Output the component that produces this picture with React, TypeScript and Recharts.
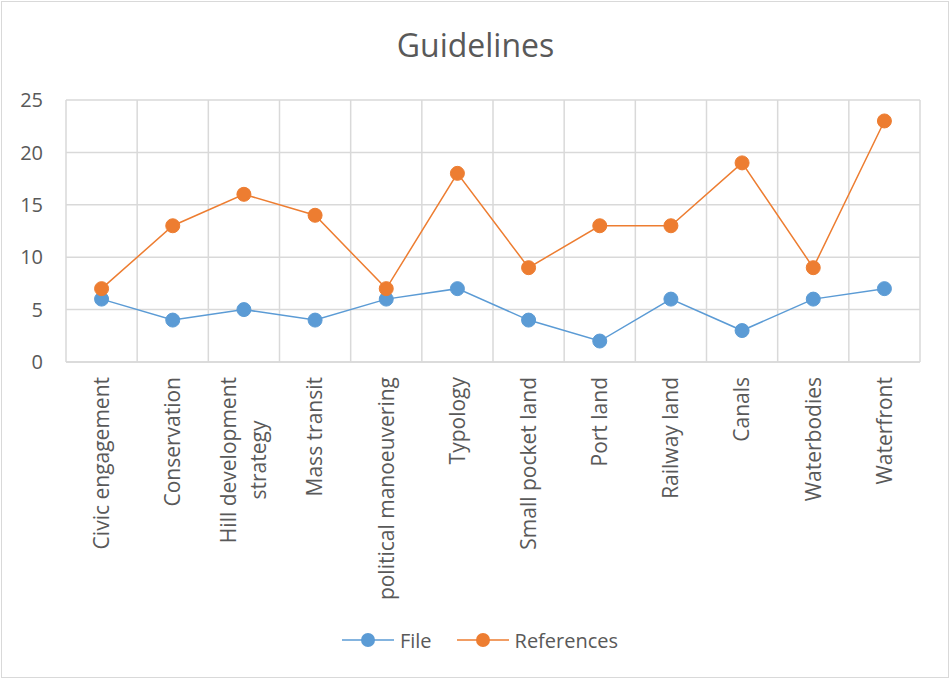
import React from 'react';
import { LineChart, Line, XAxis, YAxis, CartesianGrid, Legend } from 'recharts';

const categories = [
  'Civic engagement',
  'Conservation',
  'Hill development strategy',
  'Mass transit',
  'political manoeuvering',
  'Typology',
  'Small pocket land',
  'Port land',
  'Railway land',
  'Canals',
  'Waterbodies',
  'Waterfront',
];
const fileValues = [6, 4, 5, 4, 6, 7, 4, 2, 6, 3, 6, 7];
const referenceValues = [7, 13, 16, 14, 7, 18, 9, 13, 13, 19, 9, 23];
const yTicks = [0, 5, 10, 15, 20, 25];
// Excel wraps this one label onto two lines
const wrappedLabels: Record<string, string[]> = {
  'Hill development strategy': ['Hill development', 'strategy'],
};

const BLUE = '#5B9BD5';
const ORANGE = '#ED7D31';
const GRID = '#D9D9D9';
const TEXT = '#595959';
const FONT = '"Open Sans", sans-serif';
const FONT_SIZE = 20;
const CAT_FONT_SIZE = 21;

const data = categories.map((name, idx) => ({
  idx,
  name,
  File: fileValues[idx],
  References: referenceValues[idx],
}));

const xTicks = categories.map((_, i) => i);
// category boundaries, for the vertical gridlines
const xBounds = [-0.5, ...categories.map((_, i) => i + 0.5)];

let measureCtx: CanvasRenderingContext2D | null = null;
const measure = (text: string) => {
  if (!measureCtx) measureCtx = document.createElement('canvas').getContext('2d');
  if (!measureCtx) return text.length * CAT_FONT_SIZE * 0.52;
  measureCtx.font = `${CAT_FONT_SIZE}px "Open Sans"`;
  return measureCtx.measureText(text).width;
};

const CategoryTick = ({ x, y, payload }: any) => {
  const label = categories[payload.value] ?? '';
  const lines = wrappedLabels[label] || [label];
  const top = 15;
  if (lines.length === 1) {
    return (
      <text
        transform={`translate(${x},${y + top}) rotate(-90)`}
        textAnchor="end"
        dy="0.35em"
        fill={TEXT}
        fontSize={CAT_FONT_SIZE}
        fontFamily={FONT}
      >
        {label}
      </text>
    );
  }
  const longest = Math.max(...lines.map(measure));
  const lh = 30;
  return (
    <text
      transform={`translate(${x},${y + top}) rotate(-90)`}
      textAnchor="middle"
      fill={TEXT}
      fontSize={CAT_FONT_SIZE}
      fontFamily={FONT}
    >
      {lines.map((ln, i) => (
        <tspan key={i} x={-longest / 2} y={(i - (lines.length - 1) / 2) * lh} dy="0.35em">
          {ln}
        </tspan>
      ))}
    </text>
  );
};

const LegendContent = ({ payload }: any) => {
  if (!payload) return null;
  return (
    <div
      style={{
        display: 'flex',
        justifyContent: 'center',
        alignItems: 'center',
        height: 30,
        paddingLeft: 9,
        fontFamily: FONT,
        fontSize: FONT_SIZE,
        color: TEXT,
      }}
    >
      {payload.map((entry: any, i: number) => (
        <span
          key={`legend-${i}`}
          style={{ display: 'flex', alignItems: 'center', marginRight: i < payload.length - 1 ? 25 : 0 }}
        >
          <svg width={52} height={16}>
            <line x1={0} y1={8} x2={52} y2={8} stroke={entry.color} strokeWidth={1.5} />
            <circle cx={26} cy={8} r={7} fill={entry.color} />
          </svg>
          <span style={{ marginLeft: 6 }}>{entry.value}</span>
        </span>
      ))}
    </div>
  );
};

export default function App() {
  return (
    <div style={{ position: 'absolute', left: 0, top: 0, width: 951, height: 680, background: '#fff', fontFamily: FONT }}>
      <div
        style={{
          position: 'absolute',
          left: 1,
          top: 1,
          width: 948,
          height: 677,
          border: `1px solid ${GRID}`,
          boxSizing: 'border-box',
        }}
      />
      <div
        style={{
          position: 'absolute',
          left: 0,
          top: 25,
          width: 951,
          textAlign: 'center',
          fontSize: 32,
          lineHeight: '40px',
          color: TEXT,
        }}
      >
        Guidelines
      </div>
      <LineChart
        width={951}
        height={680}
        data={data}
        margin={{ top: 100, right: 31, left: 0, bottom: 25 }}
      >
        <CartesianGrid stroke={GRID} strokeWidth={1.5} verticalValues={xBounds} />
        <XAxis
          dataKey="idx"
          type="number"
          domain={[-0.5, 11.5]}
          ticks={xTicks}
          interval={0}
          height={263}
          tickLine={false}
          tickSize={0}
          tickMargin={0}
          axisLine={{ stroke: GRID, strokeWidth: 1.5 }}
          tick={<CategoryTick />}
        />
        <YAxis
          type="number"
          domain={[0, 25]}
          ticks={yTicks}
          width={66}
          axisLine={false}
          tickLine={false}
          tickSize={0}
          tickMargin={23}
          tick={{ fill: TEXT, fontSize: FONT_SIZE, fontFamily: FONT }}
        />
        <Legend
          verticalAlign="bottom"
          content={<LegendContent />}
          wrapperStyle={{ left: 0, width: 951, height: 30 }}
        />
        <Line
          dataKey="File"
          type="linear"
          stroke={BLUE}
          strokeWidth={1.5}
          dot={{ r: 7, fill: BLUE, stroke: BLUE, strokeWidth: 1 }}
          activeDot={false}
          isAnimationActive={false}
        />
        <Line
          dataKey="References"
          type="linear"
          stroke={ORANGE}
          strokeWidth={1.5}
          dot={{ r: 7, fill: ORANGE, stroke: ORANGE, strokeWidth: 1 }}
          activeDot={false}
          isAnimationActive={false}
        />
      </LineChart>
    </div>
  );
}
